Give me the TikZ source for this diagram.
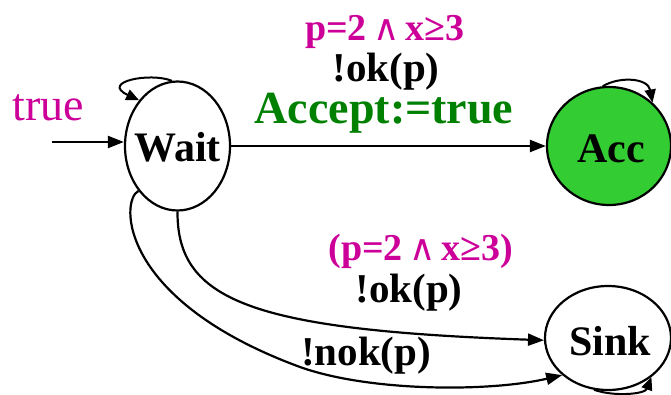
\documentclass[tikz,border=0pt]{standalone}
\usepackage{fontspec}
\setmainfont{Liberation Serif}
\newfontfamily\symf{DejaVu Sans}
\usetikzlibrary{shapes.geometric,arrows.meta}
\definecolor{mag}{HTML}{CC0099}
\definecolor{dkgreen}{HTML}{008000}
\definecolor{accfill}{HTML}{33CC33}
\begin{document}
\begin{tikzpicture}[x=1pt,y=-1pt,
  stateshape/.style={draw, line width=2.2pt, ellipse, inner sep=0pt},
  edge/.style={line width=2.2pt, -{Triangle[length=16pt,width=12pt]}},
  loopedge/.style={line width=2pt, -{Triangle[length=13pt,width=11pt]}},
  statelbl/.style={font=\fontsize{42}{42}\selectfont\bfseries, anchor=base},
  guard/.style={font=\fontsize{38}{38}\selectfont\bfseries, text=mag, anchor=base},
  action/.style={font=\fontsize{41}{41}\selectfont\bfseries, anchor=base},
  assign/.style={font=\fontsize{46}{46}\selectfont\bfseries, text=dkgreen, anchor=base}]
\useasboundingbox (0,0) rectangle (671,394);
% states
\node[stateshape, minimum width=105pt, minimum height=129pt] (Wait) at (177.5,146) {};
\node[stateshape, fill=accfill, minimum width=124pt, minimum height=118pt] (Acc) at (609,146) {};
\node[stateshape, minimum width=126pt, minimum height=104pt] (Sink) at (608,338) {};
\node[statelbl] (WaitT) at (177.5,161) {Wait};
\node[statelbl] (AccT) at (611,162) {Acc};
\node[statelbl] (SinkT) at (610,355) {Sink};
% initial
\coordinate (init) at (52,142);
\node[font=\fontsize{46}{46}\selectfont, text=mag, anchor=base] (truelbl) at (48,120) {true};
\draw[edge] (init) -- (init -| Wait.west);
% self loops
\draw[loopedge] (Wait.95) .. controls (150,72) and (100,82) .. (Wait.130);
\draw[loopedge] (Acc.96) .. controls (620,76) and (648,78) .. (Acc.45);
\draw[loopedge] (Sink.255) .. controls (615,397) and (645,394) .. (Sink.318);
% transitions
\draw[edge] (Wait) -- (Acc);
\node[guard] (g1) at (385,40) {p=2\,{\symf\mdseries\fontsize{36}{36}\selectfont ∧}\,x≥3};
\node[action] (a1) at (386,81) {!ok(p)};
\node[assign] (s1) at (384,123) {Accept:=true};
\draw[edge] (Wait.south) .. controls (177,300) and (250,330) .. (Sink.182);
\node[guard] (g2) at (421,260) {(p=2\,{\symf\mdseries\fontsize{36}{36}\selectfont ∧}\,x≥3)};
\node[action] (a2) at (409,302) {!ok(p)};
\draw[edge] (Wait.229) .. controls (120,200) and (118,300) .. (300,367)
  .. controls (370,392) and (490,392) .. (Sink.219);
\node[action] (a3) at (366,365) {!nok(p)};
\end{tikzpicture}
\end{document}
